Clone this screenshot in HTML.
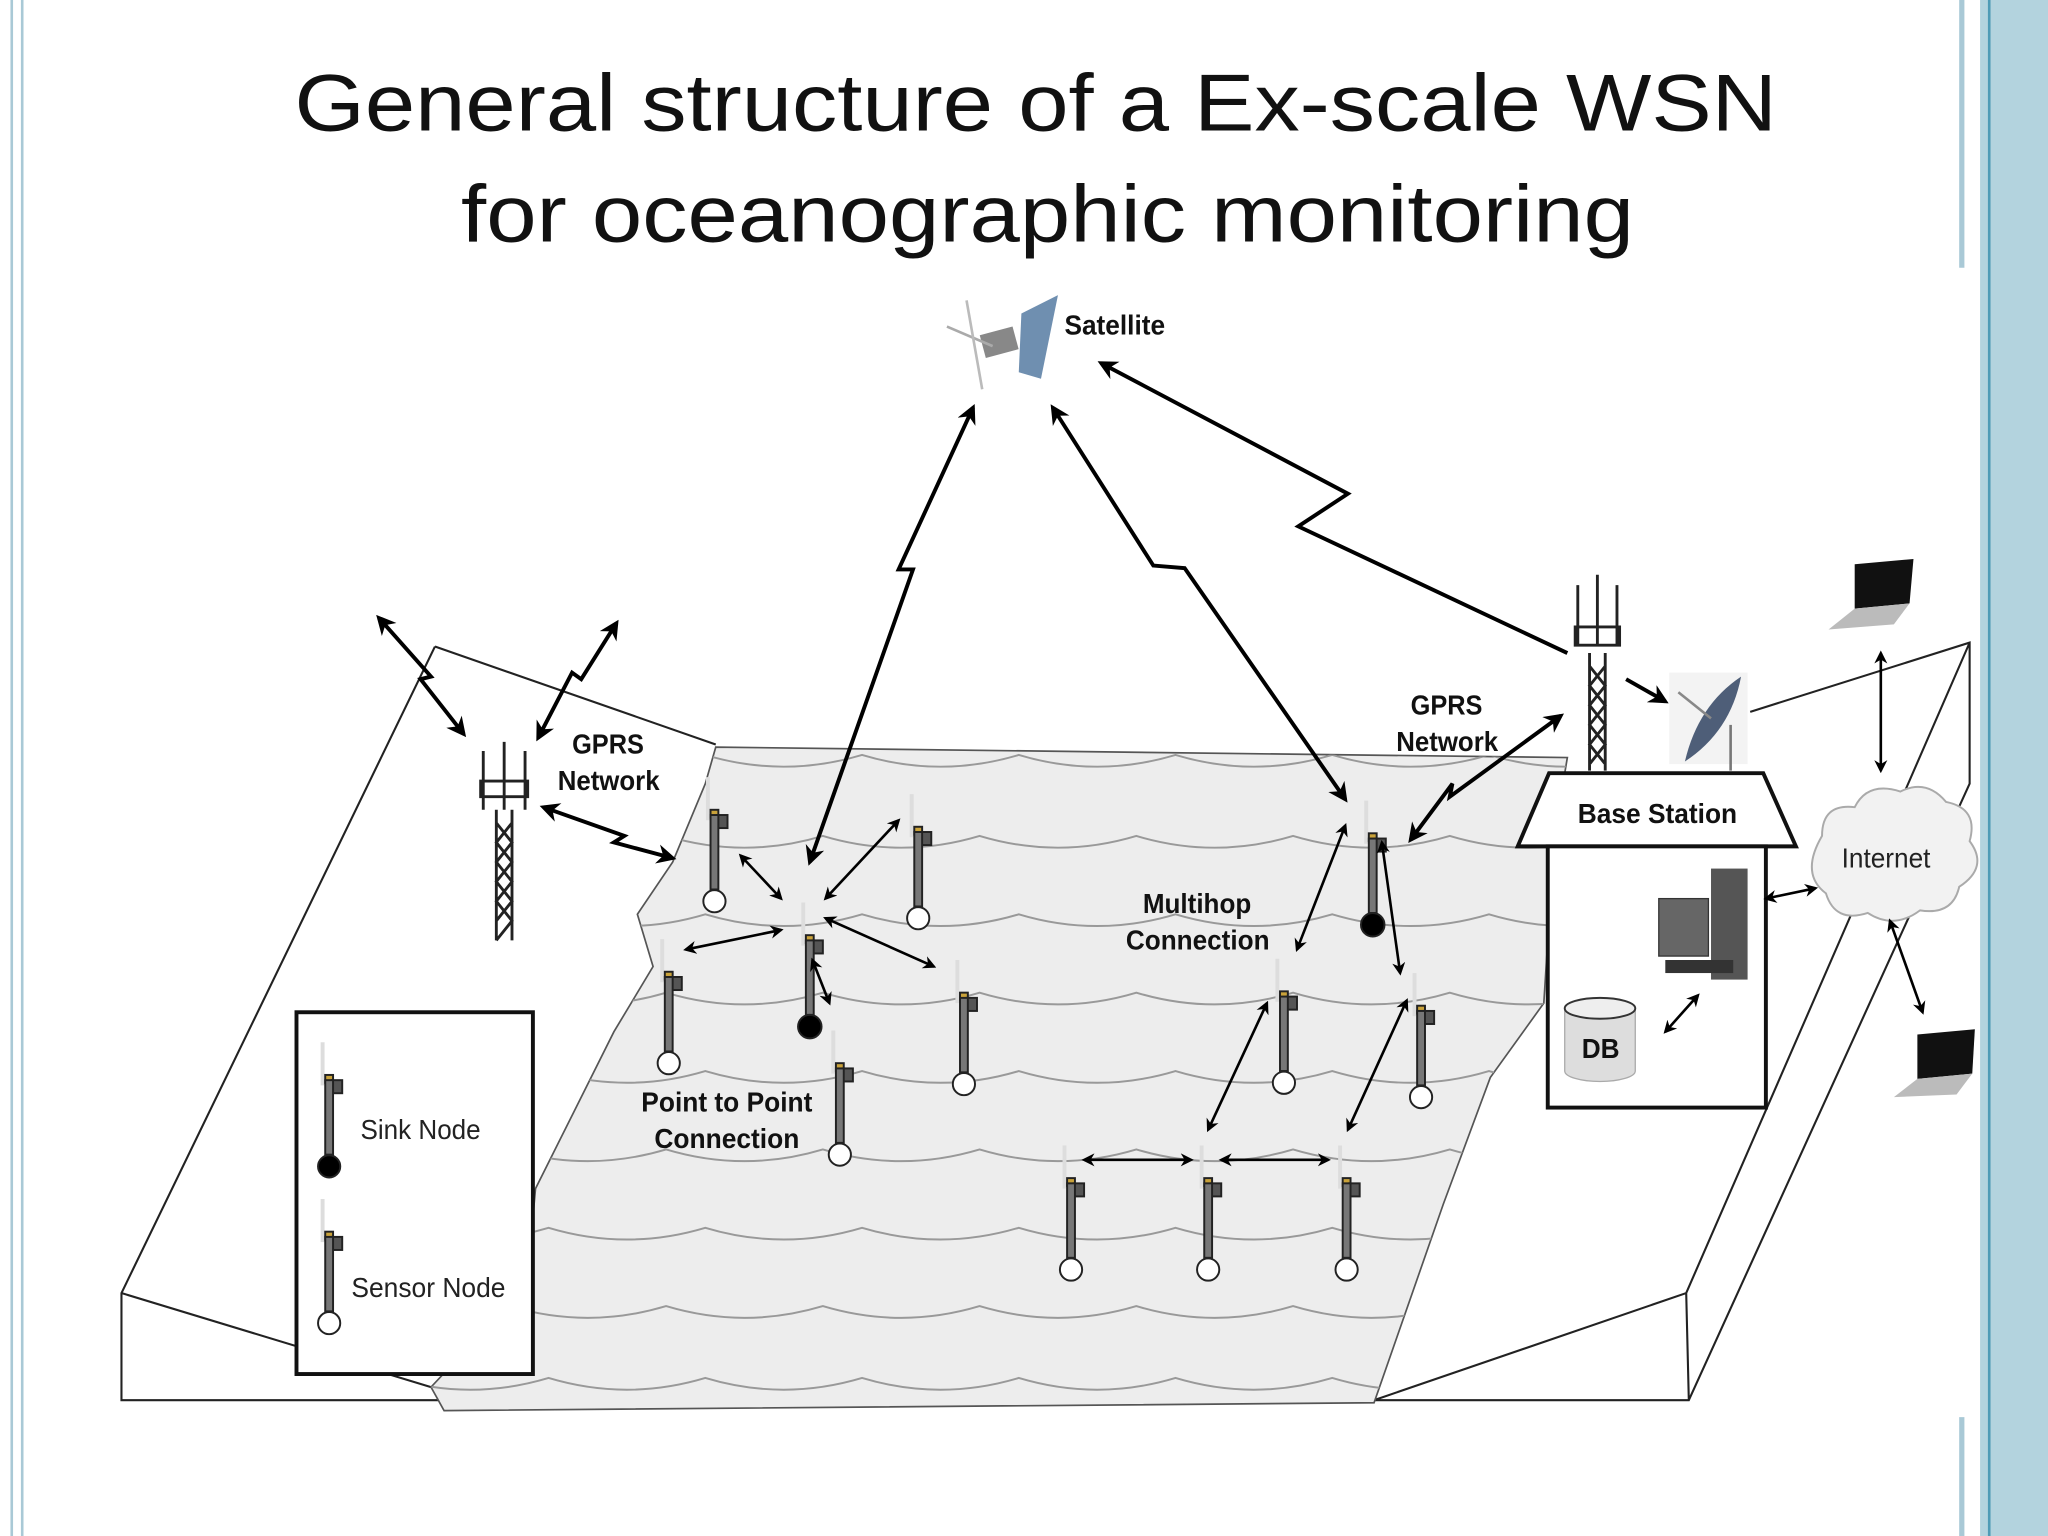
<!DOCTYPE html>
<html><head><meta charset="utf-8"><style>
html,body{margin:0;padding:0;background:#fff;}
svg{display:block;}
text{font-family:"Liberation Sans",sans-serif;}
.lb{font-family:"Liberation Sans",sans-serif;font-weight:bold;font-size:21px;fill:#111;}
.ln{font-family:"Liberation Sans",sans-serif;font-size:21px;fill:#222;}
</style></head><body>
<svg width="2048" height="1536" viewBox="0 0 1568 1176" xmlns="http://www.w3.org/2000/svg">
<defs>
<marker id="ah" viewBox="0 0 10 10" refX="8" refY="5" markerWidth="5" markerHeight="5" orient="auto-start-reverse"><path d="M0,0 L10,5 L0,10 L3,5 z" fill="#000"/></marker>
<clipPath id="seaclip"><path id="seap" d="M548,572 L1200,580 L1190,640 L1182,768 L1141,825 L1105,922 L1052,1074 L340,1080 L330,1062 L360,1030 L405,965 L410,910 L440,850 L470,790 L500,740 L488,700 L515,660 L540,600 Z"/></clipPath>
<g id="nd">
<line x1="-5" y1="-95" x2="-5" y2="-62" stroke="#ddd" stroke-width="3"/>
<rect x="-3" y="-70" width="6" height="6" fill="#c9a23a"/>
<rect x="2" y="-66" width="8" height="10" fill="#555"/>
<rect x="-3" y="-66" width="6" height="57" fill="#777"/>
</g>
</defs>
<rect width="1568" height="1176" fill="#fff"/>
<!-- borders -->
<line x1="9" y1="0" x2="9" y2="1176" stroke="#a9c9d6" stroke-width="2"/>
<line x1="17" y1="0" x2="17" y2="1176" stroke="#a9c9d6" stroke-width="2"/>
<line x1="1502" y1="0" x2="1502" y2="205" stroke="#a9c9d6" stroke-width="4"/>
<line x1="1502" y1="1085" x2="1502" y2="1176" stroke="#a9c9d6" stroke-width="4"/>
<rect x="1516" y="0" width="52" height="1176" fill="#b3d3de"/>
<line x1="1523" y1="0" x2="1523" y2="1176" stroke="#4f9bb6" stroke-width="2"/>
<!-- title -->
<text x="793" y="100" text-anchor="middle" font-size="62" fill="#111" textLength="1135" lengthAdjust="spacingAndGlyphs">General structure of a Ex-scale WSN</text>
<text x="802" y="185" text-anchor="middle" font-size="62" fill="#111" textLength="898" lengthAdjust="spacingAndGlyphs">for oceanographic monitoring</text>
<!-- left land -->
<g fill="none" stroke="#222" stroke-width="1.6">
<path d="M333,495 L548,570 M333,495 L93,990 L93,1072 L340,1072 M93,990 L330,1062"/>
<!-- right land -->
<path d="M1340,545 L1508,492 L1508,600 L1293,1072 L1052,1072 L1291,990 L1508,492 M1291,990 L1293,1072"/>
</g>
<!-- sea -->
<use href="#seap" fill="#ededed" stroke="#555" stroke-width="1.3"/>
<g clip-path="url(#seaclip)" fill="none" stroke="#999" stroke-width="1.5">
<path id="wv" d="M300,0 q60,18 120,0 q60,18 120,0 q60,18 120,0 q60,18 120,0 q60,18 120,0 q60,18 120,0 q60,18 120,0 q60,18 120,0 q60,18 120,0"/>
<use href="#wv" y="578"/><use href="#wv" y="640" x="-30"/><use href="#wv" y="700"/><use href="#wv" y="760" x="-30"/><use href="#wv" y="820"/><use href="#wv" y="880" x="-30"/><use href="#wv" y="940"/><use href="#wv" y="1000" x="-30"/><use href="#wv" y="1055"/>
</g>
<!-- legend -->
<rect x="227" y="775" width="181" height="277" fill="#fff" stroke="#111" stroke-width="3"/>
<text class="ln" x="276" y="872" textLength="92" lengthAdjust="spacingAndGlyphs">Sink Node</text>
<text class="ln" x="269" y="993" textLength="118" lengthAdjust="spacingAndGlyphs">Sensor Node</text>
<!-- nodes -->
<g stroke="#222" stroke-width="1.5">
<use href="#nd" x="547" y="690"/><circle cx="547" cy="690" r="8.5" fill="#fff"/>
<use href="#nd" x="703" y="703"/><circle cx="703" cy="703" r="8.5" fill="#fff"/>
<use href="#nd" x="620" y="786"/><circle cx="620" cy="786" r="9" fill="#000"/>
<use href="#nd" x="512" y="814"/><circle cx="512" cy="814" r="8.5" fill="#fff"/>
<use href="#nd" x="738" y="830"/><circle cx="738" cy="830" r="8.5" fill="#fff"/>
<use href="#nd" x="643" y="884"/><circle cx="643" cy="884" r="8.5" fill="#fff"/>
<use href="#nd" x="1051" y="708"/><circle cx="1051" cy="708" r="9" fill="#000"/>
<use href="#nd" x="983" y="829"/><circle cx="983" cy="829" r="8.5" fill="#fff"/>
<use href="#nd" x="1088" y="840"/><circle cx="1088" cy="840" r="8.5" fill="#fff"/>
<use href="#nd" x="820" y="972"/><circle cx="820" cy="972" r="8.5" fill="#fff"/>
<use href="#nd" x="925" y="972"/><circle cx="925" cy="972" r="8.5" fill="#fff"/>
<use href="#nd" x="1031" y="972"/><circle cx="1031" cy="972" r="8.5" fill="#fff"/>
<use href="#nd" x="252" y="893"/><circle cx="252" cy="893" r="8.5" fill="#000"/>
<use href="#nd" x="252" y="1013"/><circle cx="252" cy="1013" r="8.5" fill="#fff"/>
</g>
<!-- towers -->
<g stroke="#222" stroke-width="2.2" fill="none">
<path d="M380,620 L380,720 M392,620 L392,720 M380,630 L392,645 L380,660 L392,675 L380,690 L392,705 L380,720 M392,630 L380,645 L392,660 L380,675 L392,690 L380,705"/>
<path d="M370,575 v45 M386,568 v52 M402,575 v45 M368,598 h36 v12 h-36 z"/>
<path d="M1217,500 L1217,590 M1229,500 L1229,590 M1217,510 L1229,525 L1217,540 L1229,555 L1217,570 L1229,585 M1229,510 L1217,525 L1229,540 L1217,555 L1229,570 L1217,585"/>
<path d="M1208,448 v45 M1223,440 v55 M1238,448 v45 M1206,480 h34 v14 h-34 z"/>
</g>
<!-- satellite -->
<g>
<polygon points="782,240 810,226 797,290 780,285" fill="#6f8fb0"/>
<rect x="752" y="253" width="26" height="18" fill="#888" transform="rotate(-15 765 262)"/>
<line x1="725" y1="250" x2="760" y2="265" stroke="#aaa" stroke-width="2"/>
<line x1="740" y1="230" x2="752" y2="298" stroke="#bbb" stroke-width="2"/>
</g>
<text class="lb" x="815" y="256" font-size="20" textLength="77" lengthAdjust="spacingAndGlyphs">Satellite</text>
<!-- dish -->
<rect x="1278" y="515" width="60" height="70" fill="#f3f3f3"/>
<path d="M1290,583 Q1300,540 1333,518 Q1325,560 1290,583 z" fill="#4e5e78"/>
<line x1="1285" y1="530" x2="1310" y2="550" stroke="#888" stroke-width="2"/>
<line x1="1325" y1="555" x2="1325" y2="590" stroke="#777" stroke-width="2"/>
<!-- base station -->
<polygon points="1162,648 1375,648 1350,592 1186,592" fill="#fff" stroke="#111" stroke-width="3"/>
<rect x="1185" y="648" width="167" height="200" fill="#fff" stroke="#111" stroke-width="3"/>
<text class="lb" x="1208" y="630" textLength="122" lengthAdjust="spacingAndGlyphs">Base Station</text>
<!-- computer -->
<rect x="1310" y="665" width="28" height="85" fill="#555"/>
<rect x="1270" y="688" width="38" height="44" fill="#666" stroke="#333"/>
<rect x="1275" y="735" width="52" height="10" fill="#333"/>
<!-- DB -->
<path d="M1198,772 L1198,820 A27,8 0 0 0 1252,820 L1252,772" fill="#ddd" stroke="#aaa"/>
<ellipse cx="1225" cy="772" rx="27" ry="8" fill="#eee" stroke="#333" stroke-width="1.5"/>
<text class="lb" x="1211" y="810" textLength="29" lengthAdjust="spacingAndGlyphs">DB</text>
<!-- cloud -->
<path d="M1395,640 q0,-25 25,-22 q10,-20 35,-12 q20,-10 35,8 q25,5 18,30 q15,20 -8,35 q-5,22 -30,18 q-20,15 -40,2 q-25,8 -32,-15 q-20,-15 -3,-44 z" fill="#f2f2f2" stroke="#aaa" stroke-width="1.5"/>
<text class="ln" x="1410" y="664" font-size="20" textLength="68" lengthAdjust="spacingAndGlyphs">Internet</text>
<!-- laptops -->
<polygon points="1420,432 1465,428 1462,462 1420,466" fill="#111"/>
<polygon points="1400,482 1420,466 1462,462 1450,478" fill="#bbb"/>
<polygon points="1468,792 1512,788 1510,822 1468,826" fill="#111"/>
<polygon points="1450,840 1468,826 1510,822 1498,838" fill="#bbb"/>
<!-- labels -->
<text class="lb" x="438" y="577" textLength="55" lengthAdjust="spacingAndGlyphs">GPRS</text>
<text class="lb" x="427" y="605" textLength="78" lengthAdjust="spacingAndGlyphs">Network</text>
<text class="lb" x="1080" y="547" textLength="55" lengthAdjust="spacingAndGlyphs">GPRS</text>
<text class="lb" x="1069" y="575" textLength="78" lengthAdjust="spacingAndGlyphs">Network</text>
<text class="lb" x="491" y="851" textLength="131" lengthAdjust="spacingAndGlyphs">Point to Point</text>
<text class="lb" x="501" y="879" textLength="111" lengthAdjust="spacingAndGlyphs">Connection</text>
<text class="lb" x="875" y="699" textLength="83" lengthAdjust="spacingAndGlyphs">Multihop</text>
<text class="lb" x="862" y="727" textLength="110" lengthAdjust="spacingAndGlyphs">Connection</text>
<!-- connectors -->
<g fill="none" stroke="#000" stroke-width="3" marker-start="url(#ah)" marker-end="url(#ah)">
<polyline points="745,312 688,436 699,436 620,660"/>
<polyline points="806,312 883,433 907,435 1030,612"/>
<polyline points="843,278 1032,378 994,403 1200,500" marker-start="url(#ah)" marker-end="none"/>
<polyline points="290,473 330,518 322,520 355,562"/>
<polyline points="472,477 445,520 438,515 412,565"/>
<polyline points="416,618 478,640 470,645 515,657"/>
<polyline points="1195,548 1110,610 1112,600 1080,643"/>
</g>
<g fill="none" stroke="#000" stroke-width="2" marker-start="url(#ah)" marker-end="url(#ah)">
<line x1="567" y1="655" x2="598" y2="688"/>
<line x1="632" y1="688" x2="688" y2="628"/>
<line x1="525" y1="727" x2="598" y2="712"/>
<line x1="632" y1="703" x2="715" y2="740"/>
<line x1="622" y1="735" x2="635" y2="768"/>
<line x1="1030" y1="632" x2="993" y2="727"/>
<line x1="1058" y1="645" x2="1072" y2="745"/>
<line x1="970" y1="768" x2="925" y2="865"/>
<line x1="1077" y1="766" x2="1032" y2="865"/>
<line x1="830" y1="888" x2="912" y2="888"/>
<line x1="935" y1="888" x2="1017" y2="888"/>
<line x1="1352" y1="688" x2="1390" y2="680"/>
<line x1="1440" y1="500" x2="1440" y2="590"/>
<line x1="1447" y1="705" x2="1472" y2="775"/>
<line x1="1275" y1="790" x2="1300" y2="762"/>
</g>
<line x1="1245" y1="520" x2="1275" y2="537" stroke="#000" stroke-width="3" marker-end="url(#ah)"/>
</svg>
</body></html>
